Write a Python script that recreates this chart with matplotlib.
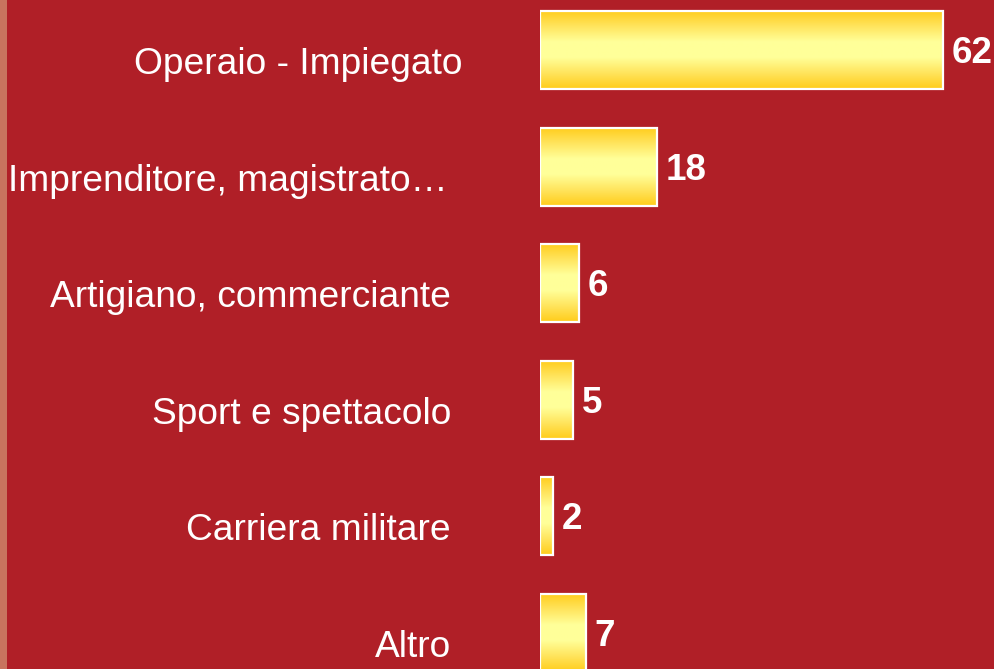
import matplotlib
matplotlib.use("Agg")
import matplotlib.pyplot as plt
import numpy as np
from matplotlib import font_manager
from matplotlib.colors import LinearSegmentedColormap
from matplotlib.transforms import offset_copy

categories = ["Operaio - Impiegato", "Imprenditore, magistrato…",
              "Artigiano, commerciante", "Sport e spettacolo",
              "Carriera militare", "Altro"]
values = [62, 18, 6, 5, 2, 7]

BG = "#B01F27"
STRIP = "#C8735E"


def find_font(name):
    for f in font_manager.fontManager.ttflist:
        if f.fname.endswith(name):
            return f.fname
    return None


reg = find_font("LiberationSans-Regular.ttf")
bold = find_font("LiberationSans-Bold.ttf")
fp_label = font_manager.FontProperties(fname=reg, size=26.7) if reg else \
    font_manager.FontProperties(family="DejaVu Sans", size=24)
fp_value = font_manager.FontProperties(fname=bold, size=26.5) if bold else \
    font_manager.FontProperties(family="DejaVu Sans", weight="bold", size=24)

fig = plt.figure(figsize=(9.95, 6.69), dpi=100)
fig.patch.set_facecolor(BG)
fig.patches.append(plt.Rectangle((0, 0), 7 / 995, 1, transform=fig.transFigure,
                                 facecolor=STRIP, edgecolor="none"))

ax = fig.add_axes([540 / 995, 0, 455 / 995, 1])
ax.set_facecolor(BG)
ax.axis("off")

# vertical gold -> pale yellow -> gold gradient
cmap = LinearSegmentedColormap.from_list(
    "gold", ["#FFCC1A", "#FFE45C", "#FFFF99", "#FFFF99", "#FFE45C", "#FFCC1A"])
grad = np.linspace(0, 1, 256).reshape(-1, 1)

y = np.arange(len(values))
h = 0.67
bars = ax.barh(y, values, height=h, color="none", edgecolor="white", linewidth=1.6, zorder=3)
for bar in bars:
    x0, y0 = bar.get_x(), bar.get_y()
    im = ax.imshow(grad, cmap=cmap, aspect="auto", interpolation="bilinear",
                   extent=(x0, x0 + bar.get_width(), y0 + bar.get_height(), y0), zorder=2)
    im.set_clip_path(bar)

ax.set_xlim(0, 70)
ax.set_ylim(5.309, -0.429)

# right edge of each category label, in pixels left of the bar start
label_gap = [78, 92, 89, 89, 89, 89]

for i, (cat, v) in enumerate(zip(categories, values)):
    tr = offset_copy(ax.transData, fig=fig, x=-label_gap[i], y=-24, units="dots")
    ax.text(0, i, cat, transform=tr, ha="right", va="baseline",
            color="white", fontproperties=fp_label, clip_on=False)
    tr2 = offset_copy(ax.transData, fig=fig, x=9, y=-13, units="dots")
    ax.text(v, i, str(v), transform=tr2, ha="left", va="baseline",
            color="white", fontproperties=fp_value, clip_on=False)

fig.savefig("out.png", dpi=100, facecolor=BG)
